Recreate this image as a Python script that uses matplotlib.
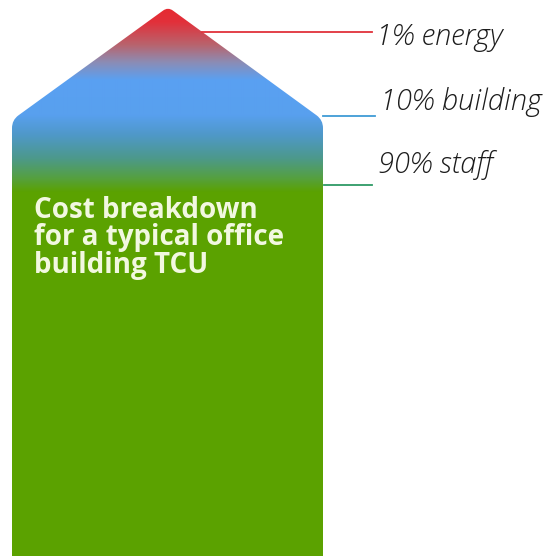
import numpy as np
import matplotlib.pyplot as plt
from matplotlib.path import Path
from matplotlib.patches import PathPatch
from matplotlib.colors import to_rgb

# cost shares shown on the house
labels = ["1% energy", "10% building", "90% staff"]
shares = [1, 10, 90]
line_colors = ["#e0323a", "#3f9bd6", "#2e9a66"]
title_lines = ["Cost breakdown", "for a typical office", "building TCU"]

# colour ramp down the house (pixel row, colour)
stop_y = [0, 22, 45, 62, 80, 115, 135, 158, 178, 192, 556]
stop_c = ["#e8262c", "#e2303a", "#b8646e", "#8c8cb4", "#5aa0f2", "#58a0ee",
          "#4f98c8", "#4c998c", "#55a040", "#5ba200", "#5ca300"]

W = H = 556
fig = plt.figure(figsize=(5.56, 5.56), dpi=100)
ax = fig.add_axes([0, 0, 1, 1])
ax.set_xlim(0, W)
ax.set_ylim(H, 0)
ax.axis("off")

# house outline with slightly rounded corners
pts = [(12, 570), (12, 120), (168, 7), (323, 120), (323, 570)]
radius = [0, 8, 6, 8, 0]
verts, codes = [pts[0]], [Path.MOVETO]
for i in range(1, len(pts) - 1):
    p = np.array(pts[i], float)
    a = np.array(pts[i - 1], float)
    b = np.array(pts[i + 1], float)
    r = radius[i]
    pa = p + (a - p) / np.linalg.norm(a - p) * r
    pb = p + (b - p) / np.linalg.norm(b - p) * r
    verts += [tuple(pa), tuple(p), tuple(pb)]
    codes += [Path.LINETO, Path.CURVE3, Path.CURVE3]
verts += [pts[-1], pts[0]]
codes += [Path.LINETO, Path.CLOSEPOLY]
house = PathPatch(Path(verts, codes), facecolor="none", edgecolor="none")
ax.add_patch(house)

rows = np.arange(H) + 0.5
cols = np.array([to_rgb(c) for c in stop_c])
ramp = np.stack([np.interp(rows, stop_y, cols[:, k]) for k in range(3)], axis=-1)
img = np.repeat(ramp[:, None, :], 4, axis=1)
ax.imshow(img, extent=(0, W, H, 0), aspect="auto", interpolation="bilinear",
          clip_path=house, zorder=1)

# leader lines and labels
line_y = [32, 116, 185]
line_x0 = [202, 323, 324]
line_x1 = [372, 375, 372]
text_x = [376, 380, 378]
text_base = [45, 110, 173]
for lab, c, y, x0, x1, tx, tb in zip(labels, line_colors, line_y, line_x0,
                                      line_x1, text_x, text_base):
    ax.plot([x0, x1], [y, y], color=c, lw=1.3, zorder=2)
    ax.text(tx, tb, lab, fontsize=21, fontstyle="italic", fontweight="light",
            family="Open Sans", color="#1c1c1c", va="baseline", ha="left")

# title inside the house
for i, t in enumerate(title_lines):
    ax.text(34, 218 + 27.5 * i, t, fontsize=20, fontweight="bold",
            family="Open Sans", color="#f2f8e0", va="baseline", ha="left",
            zorder=3)

fig.savefig("out.png", dpi=100)
